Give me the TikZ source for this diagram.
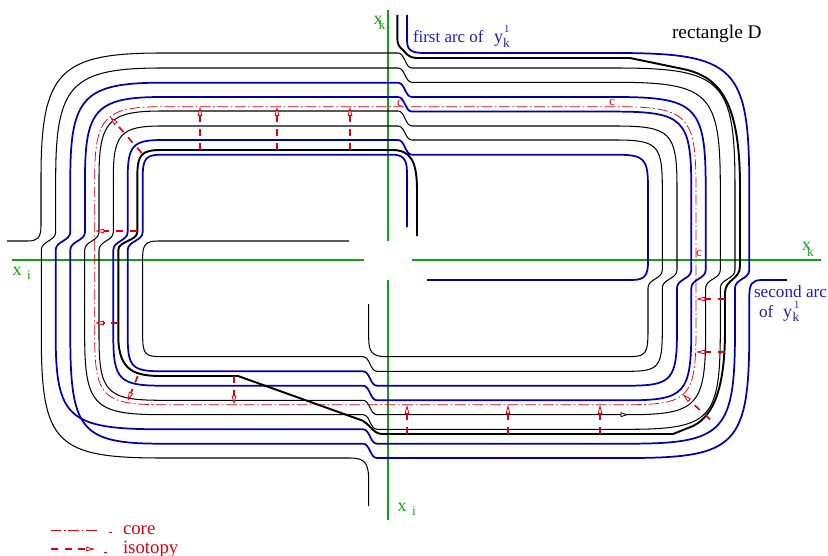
\documentclass[tikz,border=0pt]{standalone}
\usepackage{fontspec}
\setmainfont{Liberation Serif}
\usetikzlibrary{arrows.meta}
\definecolor{strandblue}{RGB}{0,0,178}
\definecolor{axisgreen}{RGB}{20,160,20}
\definecolor{isored}{RGB}{222,0,16}
\definecolor{txtblue}{RGB}{30,30,190}
% corners, all walked clockwise
\def\TL#1#2{-- (#1,178) .. controls (#1,{178+.85*(#2-178)}) and ({162+.85*(#1-162)},#2) .. (162,#2)}
\def\TR#1#2{-- (615,#1) .. controls ({615+.9*(#2-615)},#1) and (#2,{188+.9*(#1-188)}) .. (#2,188)}
\def\BR#1#2{-- (#1,330) .. controls (#1,{330+.9*(#2-330)}) and ({628+.9*(#1-628)},#2) .. (628,#2)}
\def\BL#1#2{-- (162,#1) .. controls ({162+.88*(#2-162)},#1) and (#2,{336+.88*(#1-336)}) .. (#2,336)}
% one-level shifts at the four arms of the cross
\def\Sl#1#2{-- (#1,250) .. controls (#1,241) and (#2,241) .. (#2,232)}
\def\St#1#2{-- (398,#1) .. controls (405,#1) and (405,#2) .. (412,#2)}
\def\Sr#1#2{-- (#1,270) .. controls (#1,279) and (#2,279) .. (#2,288)}
\def\Sb#1#2{-- (377,#1) .. controls (370,#1) and (370,#2) .. (363,#2)}
\tikzset{
  thinstrand/.style={black,line width=.78pt,line join=round},
  bluestrand/.style={strandblue,line width=1.3pt,line join=round},
  thickstrand/.style={black,line width=1.45pt,line join=round},
  corestyle/.style={isored,line width=.55pt,dash pattern=on 8pt off 2pt on 1.2pt off 2pt},
  isotopy/.style={isored,line width=1.25pt,dash pattern=on 5.2pt off 5.2pt,
    -{Triangle[length=6.8pt,width=3.4pt,fill=white,line width=.6pt]}},
  axis/.style={axisgreen,line width=.8pt},
  lbl/.style={anchor=base west,inner sep=0pt,outer sep=0pt},
}
\newcommand{\fpx}[1]{\fontsize{#1}{#1}\selectfont}
\begin{document}
\begin{tikzpicture}[x=.75pt,y=-.75pt]
\useasboundingbox (0,0) rectangle (828,556);
% axes
\draw[axis] (12,260) -- (364,260);
\draw[axis] (412,260) -- (821,260);
\draw[axis] (388,10) -- (388,241);
\draw[axis] (388,280) -- (388,520);
% core
\draw[corestyle] (94.7,250) \TL{94.7}{106.7} \TR{106.7}{696} \BR{696}{404.7} \BL{404.7}{94.7} -- cycle;
% black strand 1
\draw[thinstrand] (7,241) -- (28,241) .. controls (37,241) and (41,238) .. (41,226)
  \TL{41}{53} \St{53}{68} \TR{68}{735} \Sr{735}{720.3} \BR{720.3}{429.3} \Sb{429.3}{414.7}
  \BL{414.7}{84.7} \Sl{84.7}{99} \TL{99}{111} \St{111}{126} \TR{126}{677} \Sr{677}{662.3}
  \BR{662.3}{371.3} \Sb{371.3}{356.7} \BL{356.7}{142.7}
  -- (142.7,256) .. controls (142.7,245) and (146,241) .. (158,241) -- (349,241);
% black strand 2
\draw[thinstrand] (368.7,506) -- (368.7,482) .. controls (368.7,464) and (366,458) .. (350,458)
  \BL{458}{41.3} \Sl{41.3}{55.7} \TL{55.7}{68} \St{68}{82.3} \TR{82.3}{720.3} \Sr{720.3}{705.7}
  \BR{705.7}{414.7} \Sb{414.7}{400.3} \BL{400.3}{99} \Sl{99}{113.3} \TL{113.3}{126} \St{126}{140}
  \TR{140}{662.3} \Sr{662.3}{648} \BR{648}{356.7}
  -- (387,356.7) .. controls (372,356.7) and (368.7,352) .. (368.7,338) -- (368.7,304);
% blue strand 1: first arc
\draw[bluestrand] (407,15) -- (407,40) .. controls (407,50) and (411,53) .. (424,53)
  \TR{53}{749.3} \Sr{749.3}{735} \BR{735}{443.7} \Sb{443.7}{429.3} \BL{429.3}{55.7} \Sl{55.7}{70.3}
  \TL{70.3}{82.7} \St{82.7}{97} \TR{97}{705.7} \Sr{705.7}{691.3} \BR{691.3}{400.3} \Sb{400.3}{385.7}
  \BL{385.7}{113.3} \Sl{113.3}{127.7} \TL{127.7}{140} \St{140}{154.7} \TR{154.7}{648}
  -- (648,262) .. controls (648,275) and (645,280) .. (632,280) -- (427,280);
% blue strand 2: second arc
\draw[bluestrand] (787,280) -- (762,280) .. controls (752,280) and (749.3,284) .. (749.3,296)
  \BR{749.3}{458} \Sb{458}{443.7} \BL{443.7}{70.3} \Sl{70.3}{85} \TL{85}{97} \St{97}{111.6}
  \TR{111.6}{691.3} \Sr{691.3}{677} \BR{677}{385.7} \Sb{385.7}{371.3} \BL{371.3}{127.7}
  \Sl{127.7}{142.7} \TL{142.7}{154.7}
  -- (392,154.7) .. controls (402,154.7) and (407,158) .. (407,172) -- (407,227);
% thick black strand
\draw[thickstrand] (397.3,15) -- (397.3,38) .. controls (397.3,44) and (399,47) .. (403,50)
  .. controls (406,53) and (409,58) .. (416,58) -- (630,58) -- (683,69)
  .. controls (722,77) and (740,105) .. (740,188)
  -- (740,266) .. controls (740,280) and (725,279) .. (725,293) -- (725,330)
  .. controls (725,385) and (715,415) .. (693,426) -- (673,434) -- (382,434)
  .. controls (372,434) and (369,421) .. (358,419) -- (238,376) -- (162,376)
  .. controls (136,376) and (118.3,372) .. (118.3,336) \Sl{118.3}{137.3} \TL{137.3}{150}
  -- (392,150) .. controls (410,150) and (417,160) .. (417,190) -- (417,236);
% isotopies
\draw[isotopy] (200,150) -- (200,106.7);
\draw[isotopy] (277,150) -- (277,106.7);
\draw[isotopy] (350,150) -- (350,106.7);
\draw[isotopy] (141.7,153) -- (110,116.7);
\draw[isotopy] (136.7,231) -- (95,231);
\draw[isotopy] (118.3,323) -- (94.7,323);
\draw[isotopy] (137.7,376) -- (127.7,401);
\draw[isotopy] (234,376) -- (234,404.7);
\draw[isotopy] (407,434) -- (407,404.7);
\draw[isotopy] (508,434) -- (508,404.7);
\draw[isotopy] (600,434) -- (600,404.7);
\draw[isotopy] (710,419.3) -- (682.7,394.3);
\draw[isotopy] (725,299) -- (696,299);
\draw[isotopy] (725,352) -- (696,352);
% small black head on the inner strand
\draw[black,line width=.5pt,-{Triangle[length=5.5pt,width=3.6pt,fill=white,line width=.6pt]}] (618,414.7) -- (628,414.7);
% core marks
\node[lbl,text=isored,font=\fpx{10}] (c1) at (397,107) {c};
\node[lbl,text=isored,font=\fpx{10}] (c2) at (609,106) {c};
\node[lbl,text=isored,font=\fpx{10}] (c3) at (696,256) {c};
% axis labels
\node[lbl,text=axisgreen,font=\fpx{13.5}] (xk1) at (373.5,25) {x};
\node[lbl,text=axisgreen,font=\fpx{10}] (xk1s) at (378.5,30) {k};
\node[lbl,text=axisgreen,font=\fpx{13.5}] (xk2) at (802,250) {x};
\node[lbl,text=axisgreen,font=\fpx{10}] (xk2s) at (807,256) {k};
\node[lbl,text=axisgreen,font=\fpx{13.5}] (xi1) at (12.7,275) {x};
\node[lbl,text=axisgreen,font=\fpx{10}] (xi1s) at (27,279) {i};
\node[lbl,text=axisgreen,font=\fpx{13.5}] (xi2) at (397.7,511) {x};
\node[lbl,text=axisgreen,font=\fpx{10}] (xi2s) at (412,515) {i};
% arc labels
\node[lbl,font=\fpx{14.5}] (rect) at (672,39) {rectangle D};
\node[lbl,text=txtblue,font=\fpx{12.7}] (first) at (413,43) {first arc of};
\node[lbl,text=txtblue,font=\fpx{13.5}] (firsty) at (494,43) {y};
\node[lbl,text=txtblue,font=\fpx{10}] (firstk) at (503,48) {k};
\node[lbl,text=txtblue,font=\fpx{8}] (first1) at (504,33) {1};
\node[lbl,text=txtblue,font=\fpx{12.9}] (second) at (754,297.7) {second arc};
\node[lbl,text=txtblue,font=\fpx{12.9}] (of) at (759,317) {of};
\node[lbl,text=txtblue,font=\fpx{13.5}] (secy) at (783,317) {y};
\node[lbl,text=txtblue,font=\fpx{10}] (seck) at (792.5,321) {k};
\node[lbl,text=txtblue,font=\fpx{8}] (sec1) at (794,308) {1};
% legend
\coordinate (la) at (50.7,530);
\coordinate (lb) at (98,530);
\draw[corestyle] (la) -- (lb);
\draw[isored,line width=.55pt] (109,532.7) -- (112,532.7);
\node[lbl,text=isored,font=\fpx{14.1}] (lcore) at (123,534) {core};
\coordinate (lc) at (50.7,549);
\coordinate (ld) at (95,549);
\draw[isotopy] (lc) -- (ld);
\draw[isored,line width=.55pt] (104,552) -- (107,552);
\node[lbl,text=isored,font=\fpx{14.1}] (liso) at (123,553.3) {isotopy};
\end{tikzpicture}
\end{document}
